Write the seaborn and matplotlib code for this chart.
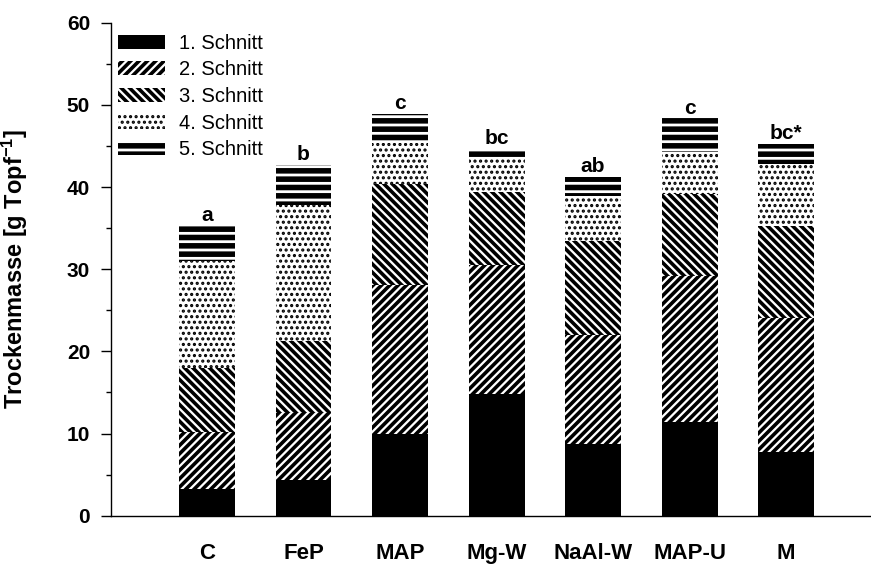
import numpy as np
import matplotlib
matplotlib.use("Agg")
import matplotlib.pyplot as plt
import matplotlib.patches as mpatches
import seaborn as sns

categories = ["C", "FeP", "MAP", "Mg-W", "NaAl-W", "MAP-U", "M"]
cut1 = [3.20, 4.30, 10.00, 14.85, 8.73, 11.37, 7.70]
cut2 = [7.00, 8.16, 18.07, 15.60, 13.27, 17.83, 16.35]
cut3 = [7.80, 8.84, 12.33, 8.95, 11.40, 9.95, 11.25]
cut4 = [12.95, 16.50, 5.00, 4.17, 5.45, 5.15, 7.50]
cut5 = [4.35, 4.90, 3.50, 1.06, 2.41, 4.06, 2.44]
letters = ["a", "b", "c", "bc", "ab", "c", "bc*"]
cut_names = ["1. Schnitt", "2. Schnitt", "3. Schnitt", "4. Schnitt", "5. Schnitt"]
y_ticks = [0, 10, 20, 30, 40, 50, 60]

sns.set_style("ticks")
plt.rcParams["font.family"] = ["Liberation Sans", "DejaVu Sans"]
plt.rcParams["mathtext.fontset"] = "custom"
plt.rcParams["mathtext.rm"] = "Liberation Sans:bold"
plt.rcParams["mathtext.default"] = "rm"
plt.rcParams["hatch.color"] = "black"
plt.rcParams["hatch.linewidth"] = 2.0
for k in ["text.color", "axes.labelcolor", "xtick.color", "ytick.color",
          "axes.edgecolor"]:
    plt.rcParams[k] = "black"

fig = plt.figure(figsize=(8.71, 5.64), dpi=100)
ax = fig.add_axes([0.1274, 0.0856, 0.8726, 0.8742])

cuts = np.array([cut1, cut2, cut3, cut4, cut5])
cum = np.cumsum(cuts, axis=0)
hatches = [None, "////", "\\\\\\\\", "...", "--"]
faces = ["black", "white", "white", "white", "white"]
hlw = [1.0, 2.6, 2.6, 1.5, 4.0]

for i in reversed(range(5)):
    before = len(ax.patches)
    sns.barplot(x=categories, y=cum[i], order=categories, color=faces[i],
                saturation=1, width=0.58, hatch=hatches[i], edgecolor="black",
                linewidth=0, ax=ax, legend=False)
    for p in ax.patches[before:]:
        if hasattr(p, "set_hatch_linewidth"):
            p.set_hatch_linewidth(hlw[i])
        else:
            p._hatch_linewidth = hlw[i]

totals = cum[-1]
for i, (t, lab) in enumerate(zip(totals, letters)):
    ax.text(i, t + 0.1, lab, ha="center", va="bottom", fontsize=15,
            fontweight="bold")

ax.set_xlim(-0.995, 6.88)
ax.set_ylim(0, 60)
ax.set_yticks(y_ticks)
ax.set_yticks(np.arange(5, 60, 10), minor=True)
ax.tick_params(axis="y", which="major", length=7, width=1, labelsize=15, pad=8)
ax.tick_params(axis="y", which="minor", length=3.5, width=1)
ax.tick_params(axis="x", length=0, labelsize=16, pad=20)
for lab in ax.get_xticklabels() + ax.get_yticklabels():
    lab.set_fontweight("bold")
ax.set_xlabel("")
ax.set_ylabel("Trockenmasse [g Topf$^{-1}$]", fontsize=17, fontweight="bold")
ax.yaxis.set_label_coords(-0.107, 0.5)
for s in ["top", "right"]:
    ax.spines[s].set_visible(False)
for s in ["left", "bottom"]:
    ax.spines[s].set_linewidth(1)
    ax.spines[s].set_color("black")

handles = []
for i in range(5):
    h = mpatches.Patch(facecolor=faces[i], hatch=hatches[i], edgecolor="black",
                       linewidth=0, label=cut_names[i])
    handles.append(h)
leg = ax.legend(handles=handles, loc="upper left", bbox_to_anchor=(0.136, 0.94),
                bbox_transform=fig.transFigure, frameon=False, fontsize=14.5,
                handlelength=2.3, handleheight=0.7, handletextpad=0.7,
                labelspacing=0.38, borderaxespad=0, borderpad=0)
for i, p in enumerate(leg.get_patches()):
    if hasattr(p, "set_hatch_linewidth"):
        p.set_hatch_linewidth(hlw[i])
    else:
        p._hatch_linewidth = hlw[i]

fig.savefig("out.png", dpi=100)
